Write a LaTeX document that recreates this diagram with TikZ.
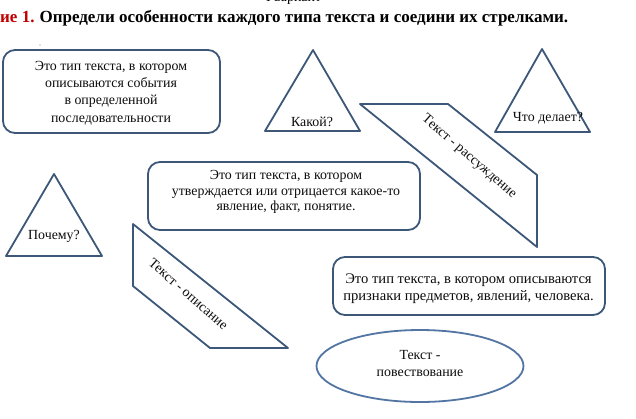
\documentclass[tikz,border=0pt]{standalone}
\usepackage{fontspec}
\setmainfont{Liberation Serif}
\usetikzlibrary{shapes.geometric}
\definecolor{edge}{HTML}{3D5778}
\definecolor{edgeb}{HTML}{5275A3}
\definecolor{redt}{HTML}{C00000}
\begin{document}
\begin{tikzpicture}[x=1pt,y=-1pt,
  shp/.style={draw=edge, line width=1.8pt, line join=round},
  box/.style={shp, rounded corners=12pt, inner sep=0pt},
  txt/.style={font=\fontsize{13.9}{17.2}\selectfont, align=center, inner sep=0pt, text=black!95},
  txtb/.style={txt, font=\fontsize{13.9}{15.5}\selectfont},
  txtc/.style={txt, font=\fontsize{14.6}{17}\selectfont}]
\useasboundingbox (0,0) rectangle (636,418);
\fill[white] (0,0) rectangle (636,418);
\clip (0,0) rectangle (636,418);
% header
\node[anchor=base west, inner sep=0pt, font=\fontsize{14}{16}\selectfont] (var) at (266,1.5) {I вариант};
\node[anchor=base west, inner sep=0pt, font=\bfseries\fontsize{17}{20}\selectfont] (title) at (0,22)
  {\textcolor{redt}{ие 1.}\hspace{5pt}Определи особенности каждого типа текста и соедини их стрелками.};
\fill[gray] (40,45) circle (0.7);
% box 1
\node[box, minimum width=217pt, minimum height=83pt] (b1) at (111.5,91.5) {};
\node[txt] (t1) at (111,93) {Это тип текста, в котором\\описываются события\\в определенной\\последовательности};
% triangle Kakoj
\draw[shp] (313,50) -- (360,131) -- (265,131) -- cycle;
\node[txt] (q1) at (312,122) {Какой?};
% parallelogram rassuzhdenie
\draw[shp] (360,104) -- (448,104) -- (537,175) -- (537,247) -- cycle;
\node[txt, rotate=-41] (p1) at (469,157) {Текст - рассуждение};
% triangle Chto delaet
\draw[shp] (542,49) -- (590,132) -- (495,132) -- cycle;
\node[txt] (q2) at (548,118) {Что делает?};
% box 2
\node[box, minimum width=272pt, minimum height=68pt] (b2) at (284,196) {};
\node[txtb] (t2) at (286,192) {Это тип текста, в котором\\утверждается или отрицается какое-то\\явление, факт, понятие.};
% triangle Pochemu
\draw[shp] (54,174) -- (102,256) -- (6,256) -- cycle;
\node[txt] (q3) at (54,236) {Почему?};
% parallelogram opisanie
\draw[shp] (133,224) -- (288,348) -- (210,348) -- (133,286) -- cycle;
\node[txt, rotate=-41] (p2) at (188.5,294) {Текст - описание};
% box 3
\node[box, minimum width=272pt, minimum height=58pt] (b3) at (469,286) {};
\node[txtc] (t3) at (468.5,288.5) {Это тип текста, в котором описываются\\признаки предметов, явлений, человека.};
% ellipse
\node[ellipse, draw=edgeb, line width=1.8pt, minimum width=207pt, minimum height=72pt, inner sep=0pt] (e1) at (420,366) {};
\node[txt] (t4) at (420,363.5) {Текст -\\повествование};
\end{tikzpicture}
\end{document}
